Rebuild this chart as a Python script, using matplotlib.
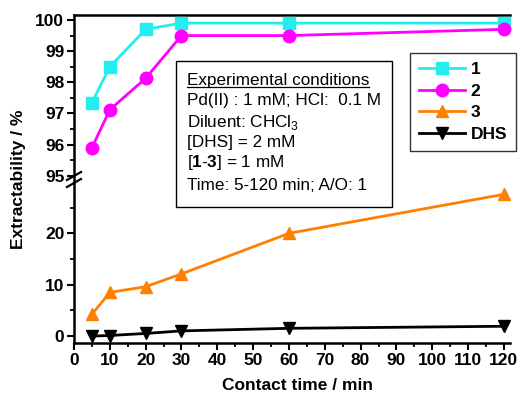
import matplotlib
matplotlib.use("Agg")
import matplotlib.pyplot as plt
from matplotlib.lines import Line2D
from matplotlib.ticker import MultipleLocator

plt.rcParams['font.family'] = ['Liberation Sans', 'DejaVu Sans']
plt.rcParams['mathtext.fontset'] = 'custom'
plt.rcParams['mathtext.rm'] = 'Liberation Sans'
plt.rcParams['mathtext.bf'] = 'Liberation Sans:bold'

time = [5, 10, 20, 30, 60, 120]
s1 = [97.35, 98.5, 99.7, 99.9, 99.9, 99.9]
s2 = [95.9, 97.12, 98.13, 99.5, 99.5, 99.7]
s3 = [4.2, 8.5, 9.6, 12.1, 20.0, 27.6]
dhs = [0.0, 0.1, 0.5, 1.0, 1.5, 1.9]
labels = ['1', '2', '3', 'DHS']
colors = ['#22EEEE', '#FF00FF', '#FF8000', '#000000']
markers = ['s', 'o', '^', 'v']

W, H = 521, 400
fig = plt.figure(figsize=(5.21, 4.0), dpi=100)
left, right = 74 / W, 510 / W
top, brk, bottom = 1 - 15 / H, 1 - 183 / H, 1 - 343 / H
ax1 = fig.add_axes([left, brk, right - left, top - brk])
ax2 = fig.add_axes([left, bottom, right - left, brk - bottom])

lw = 2.0
ms = 9
for ax, series in ((ax1, [(s1, 0), (s2, 1)]), (ax2, [(s3, 2), (dhs, 3)])):
    for ys, i in series:
        ax.plot(time, ys, color=colors[i], marker=markers[i], lw=lw, ms=ms,
                clip_on=False, zorder=3)

FS = 12.5
ax1.set_ylim(94.77, 100.16)
ax2.set_ylim(-1.36, 29.8)
for ax in (ax1, ax2):
    ax.set_xlim(0, 121.7)
    ax.xaxis.set_major_locator(MultipleLocator(10))
    ax.xaxis.set_minor_locator(MultipleLocator(5))
    ax.spines['right'].set_visible(False)
    for s in ('left', 'top', 'bottom'):
        ax.spines[s].set_linewidth(1.8)
    ax.tick_params(which='major', direction='out', length=5, width=1.5,
                   labelsize=FS, pad=2)
    ax.tick_params(which='minor', direction='out', length=3, width=1.3)

ax1.yaxis.set_major_locator(MultipleLocator(1))
ax1.yaxis.set_minor_locator(MultipleLocator(0.5))
ax1.spines['bottom'].set_visible(False)
ax1.tick_params(axis='x', which='both', bottom=False, labelbottom=False)
ax2.yaxis.set_minor_locator(MultipleLocator(5))
ax2.spines['top'].set_visible(False)
ax2.set_yticks([0, 10, 20])
for ax in (ax1, ax2):
    for t in ax.get_xticklabels() + ax.get_yticklabels():
        t.set_fontweight('bold')

# break marks
for dy in (-4, 3):
    y = 1 - (180 + dy) / H
    fig.add_artist(Line2D([67 / W, 81 / W], [y - 4 / H, y + 4 / H],
                          color='black', lw=1.6, transform=fig.transFigure))

fig.text(19 / W, 0.5 * (top + bottom), 'Extractability / %', rotation=90,
         ha='center', va='center', fontsize=FS, fontweight='bold')
fig.text(297 / W, 1 - 385 / H, 'Contact time / min',
         ha='center', va='center', fontsize=FS, fontweight='bold')

# legend
handles = [Line2D([], [], color=colors[i], marker=markers[i], lw=lw, ms=ms)
           for i in range(4)]
leg = ax1.legend(handles, labels, loc='upper left',
                 bbox_to_anchor=(410 / W, 1 - 53 / H),
                 bbox_transform=fig.transFigure, frameon=True, fancybox=False,
                 edgecolor='black', handlelength=2.65, handletextpad=0.35,
                 labelspacing=0.38, borderpad=0.5, borderaxespad=0,
                 prop={'weight': 'bold', 'size': FS})
leg.get_frame().set_linewidth(1.0)
leg.set_zorder(10)

# conditions box
bx0, bx1, by0, by1 = 176 / W, 392 / W, 1 - 207 / H, 1 - 61 / H
fig.add_artist(plt.Rectangle((bx0, by0), bx1 - bx0, by1 - by0, fill=True,
                             facecolor='white', edgecolor='black', lw=1.0,
                             transform=fig.transFigure, zorder=5))
lines = ['Experimental conditions',
         'Pd(II) : 1 mM; HCl:  0.1 M',
         r'Diluent: CHCl$_3$',
         '[DHS] = 2 mM',
         r'[$\mathbf{1}$-$\mathbf{3}$] = 1 mM',
         'Time: 5-120 min; A/O: 1']
ys = [80, 101, 122, 143, 163, 185]
texts = []
for s, y in zip(lines, ys):
    texts.append(fig.text(187 / W, 1 - y / H, s, ha='left', va='center',
                          fontsize=12.3, zorder=6))
fig.canvas.draw()
bb = texts[0].get_window_extent(fig.canvas.get_renderer())
bb = bb.transformed(fig.transFigure.inverted())
fig.add_artist(Line2D([bb.x0, bb.x1], [bb.y0 + 0.5 / H, bb.y0 + 0.5 / H],
                      color='black', lw=0.9, transform=fig.transFigure,
                      zorder=6))

fig.savefig('out.png', dpi=100)
